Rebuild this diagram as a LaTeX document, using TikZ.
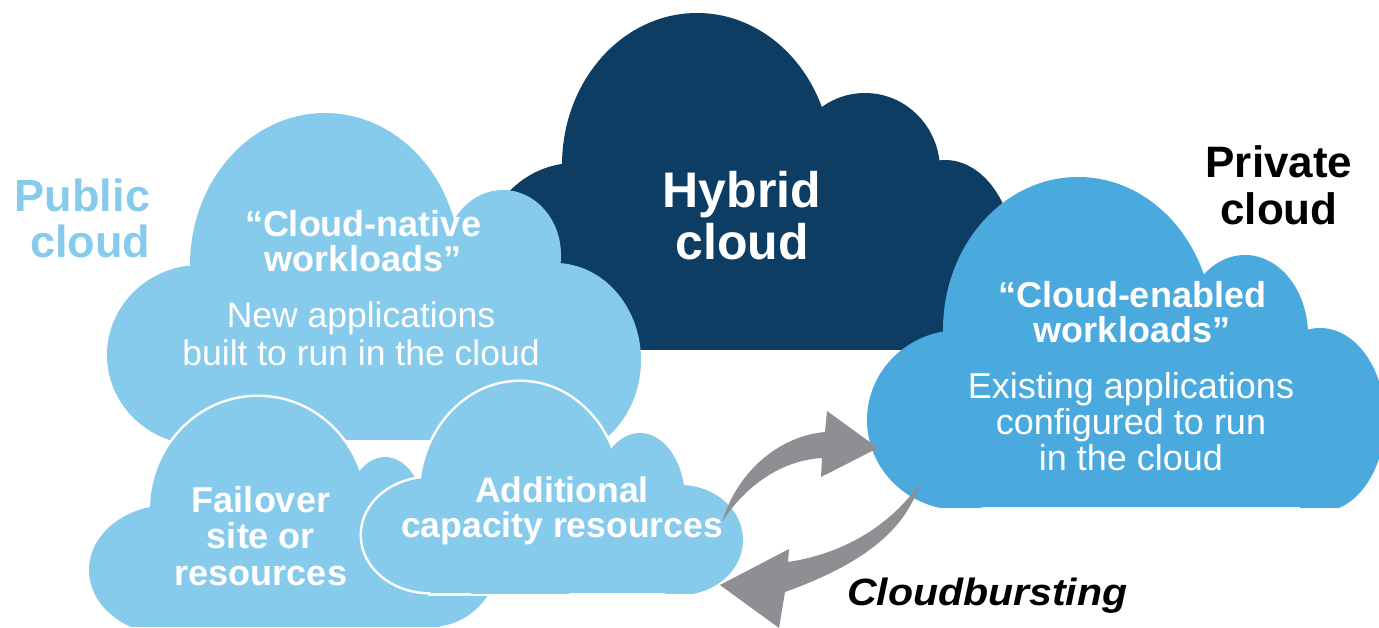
\documentclass[tikz,border=0pt]{standalone}
\usepackage{fontspec}
\setmainfont{Liberation Sans}
\definecolor{pubblue}{HTML}{87CBEC}
\definecolor{hybnavy}{HTML}{0E3D63}
\definecolor{privblue}{HTML}{4AA9DD}
\definecolor{arrgray}{HTML}{8E8F92}
\newcommand\hybshape[1]{%
  \path[#1] (697,165) ellipse [x radius=135pt, y radius=152pt];
  \path[#1] (865,170) ellipse [x radius=75pt, y radius=77pt];
  \path[#1] (945,260) ellipse [x radius=70pt, y radius=100pt];
  \path[#1] (575,265) ellipse [x radius=95pt, y radius=102pt];
  \path[#1] (600,200) rectangle (950,350);}
\newcommand\pubshape[1]{%
  \path[#1] (325,265) ellipse [x radius=135pt, y radius=152pt];
  \path[#1] (503,255) ellipse [x radius=58pt, y radius=65pt];
  \path[#1] (555,360) ellipse [x radius=86pt, y radius=97pt];
  \path[#1] (200,355) ellipse [x radius=93pt, y radius=90pt];
  \path[#1] (210,260) rectangle (555,440);}
\newcommand\privshape[1]{%
  \path[#1] (1078,330) ellipse [x radius=135pt, y radius=153pt];
  \path[#1] (1245,335) ellipse [x radius=63pt, y radius=80pt];
  \path[#1] (1320,420) ellipse [x radius=65pt, y radius=92pt];
  \path[#1] (960,420) ellipse [x radius=93pt, y radius=90pt];
  \path[#1] (960,380) rectangle (1300,507);}
\newcommand\failshape[1]{%
  \path[#1] (258,510) ellipse [x radius=108pt, y radius=113pt];
  \path[#1] (385,525) ellipse [x radius=42pt, y radius=68pt];
  \path[#1] (170,570) ellipse [x radius=81pt, y radius=65pt];
  \path[#1] (430,560) ellipse [x radius=68pt, y radius=67pt];
  \path[#1] (170,530) rectangle (440,627);}
\newcommand\addshape[1]{%
  \path[#1] (520,495) ellipse [x radius=100pt, y radius=113pt];
  \path[#1] (640,500) ellipse [x radius=45pt, y radius=67pt];
  \path[#1] (680,540) ellipse [x radius=63pt, y radius=55pt];
  \path[#1] (430,535) ellipse [x radius=68pt, y radius=57pt];
  \path[#1] (430,500) rectangle (680,593);}
\begin{document}
\begin{tikzpicture}[x=1pt,y=-1pt,
  lbl/.style={inner sep=0pt, outer sep=0pt, align=center, anchor=base},
  outline/.style={draw=white, fill=white, line width=5pt},
  arrowshape/.style={fill=arrgray}]
\useasboundingbox (0,0) rectangle (1379,628);
\fill[white] (0,0) rectangle (1379,628);
% hybrid cloud
\begin{scope}
  \clip (0,0) rectangle (1379,350);
  \hybshape{fill=hybnavy}
\end{scope}
% public cloud
\begin{scope}
  \clip (0,0) rectangle (1379,440);
  \pubshape{fill=pubblue}
\end{scope}
% private cloud
\begin{scope}
  \clip (0,0) rectangle (1379,507);
  \privshape{fill=privblue}
\end{scope}
% failover cloud
\begin{scope}
  \clip (0,0) rectangle (1379,628);
  \failshape{outline}
\end{scope}
\begin{scope}
  \clip (0,0) rectangle (1379,626);
  \failshape{fill=pubblue}
\end{scope}
% additional capacity cloud
\begin{scope}
  \clip (0,0) rectangle (1379,595.5);
  \addshape{outline}
\end{scope}
\begin{scope}
  \clip (0,0) rectangle (1379,593);
  \addshape{fill=pubblue}
\end{scope}
% cloudbursting arrows
\fill[arrowshape] (722,522) .. controls (738,470) and (780,436) .. (825,432)
  -- (827,411) -- (878,448) -- (821,477) -- (822,458)
  .. controls (785,460) and (748,482) .. (722,522) -- cycle;
\fill[arrowshape] (920,483) .. controls (905,532) and (860,565) .. (785,592)
  -- (779,628) -- (720,585) -- (789,549) -- (788,562)
  .. controls (848,553) and (893,522) .. (920,483) -- cycle;
% texts (anchor = baseline of the last line)
\node (pub) [lbl, align=right, anchor=base east, text=pubblue,
  font=\bfseries\fontsize{45}{46}\selectfont] at (150,258) {Public\\cloud};
\node (hyb) [lbl, text=white, font=\bfseries\fontsize{50}{52}\selectfont]
  at (742,260) {Hybrid\\cloud};
\node (priv) [lbl, text=black, font=\bfseries\fontsize{44}{47}\selectfont]
  at (1279,225) {Private\\cloud};
\node (nativeT) [lbl, text=white, font=\bfseries\fontsize{36}{35}\selectfont]
  at (363,272) {“Cloud-native\\workloads”};
\node (nativeD) [lbl, text=white, font=\fontsize{35.5}{37}\selectfont]
  at (361,365) {New applications\\built to run in the cloud};
\node (enabT) [lbl, text=white, font=\bfseries\fontsize{36}{35}\selectfont]
  at (1132,342) {“Cloud-enabled\\workloads”};
\node (enabD) [lbl, text=white, font=\fontsize{36}{36}\selectfont]
  at (1131,470) {Existing applications\\configured to run\\in the cloud};
\node (fail) [lbl, text=white, font=\bfseries\fontsize{36}{36.5}\selectfont]
  at (261,585) {Failover\\site or\\resources};
\node (addc) [lbl, text=white, font=\bfseries\fontsize{35.5}{35}\selectfont]
  at (562,537) {Additional\\capacity resources};
\node (burst) [lbl, anchor=base west, text=black,
  font=\bfseries\itshape\fontsize{38}{38}\selectfont]
  at (847,605) {\scalebox{1.08}[1]{Cloudbursting}};
\end{tikzpicture}
\end{document}
